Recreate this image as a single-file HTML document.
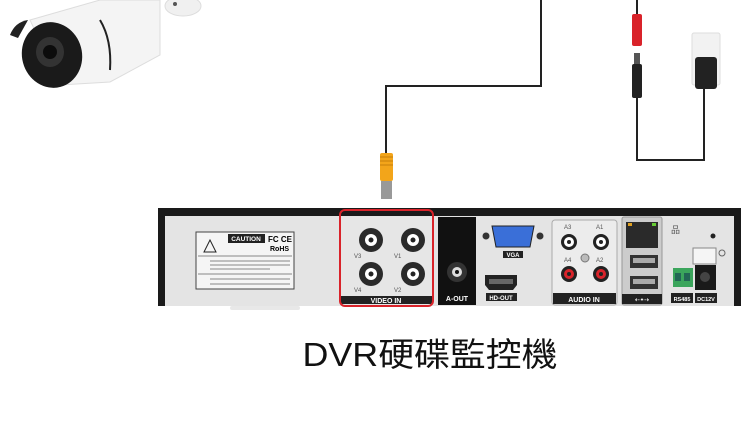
<!DOCTYPE html>
<html><head><meta charset="utf-8"><style>
html,body{margin:0;padding:0;background:#fff;width:750px;height:425px;overflow:hidden}
svg{display:block}
</style></head><body>
<svg width="750" height="425" viewBox="0 0 750 425" xmlns="http://www.w3.org/2000/svg" font-family="Liberation Sans, sans-serif">
<!-- camera -->
<path d="M30 20 L100 0 L160 0 L160 55 L110 82 L60 85 Z" fill="#f4f4f4" stroke="#ddd"/>
<path d="M100 20 Q112 40 110 70" stroke="#222" stroke-width="2" fill="none"/>
<ellipse cx="52" cy="55" rx="30" ry="33" fill="#1a1a1a" transform="rotate(-15 52 55)"/>
<ellipse cx="50" cy="52" rx="14" ry="15" fill="#333"/>
<circle cx="50" cy="52" r="7" fill="#0c0c0c"/>
<path d="M10 35 Q15 22 28 20 L18 38 Z" fill="#222"/>
<ellipse cx="183" cy="6" rx="18" ry="10" fill="#f0f0f0" stroke="#ddd"/>
<circle cx="175" cy="4" r="2" fill="#555"/>
<!-- coax cable -->
<polyline points="541,0 541,86 386,86 386,155" fill="none" stroke="#222" stroke-width="2"/>
<rect x="380" y="153" width="13" height="28" rx="2" fill="#f3a51a"/>
<g stroke="#c77f0a" stroke-width="1"><line x1="380" y1="157" x2="393" y2="157"/><line x1="380" y1="161" x2="393" y2="161"/><line x1="380" y1="165" x2="393" y2="165"/></g>
<rect x="381" y="181" width="11" height="18" fill="#999"/>
<!-- power -->
<line x1="637" y1="0" x2="637" y2="14" stroke="#222" stroke-width="2"/>
<rect x="632" y="14" width="10" height="32" rx="2" fill="#d9232a"/>
<rect x="634" y="53" width="6" height="12" fill="#555"/>
<rect x="632" y="64" width="10" height="34" rx="2" fill="#222"/>
<polyline points="637,98 637,160 704,160 704,88" fill="none" stroke="#222" stroke-width="2"/>
<rect x="692" y="33" width="28" height="52" rx="2" fill="#f2f2f2" stroke="#ddd"/>
<rect x="695" y="57" width="22" height="32" rx="3" fill="#222"/>
<!-- DVR -->
<rect x="158" y="208" width="583" height="98" fill="#1a1a1a"/>
<rect x="165" y="216" width="569" height="90" fill="#e4e4e4"/>
<rect x="230" y="306" width="70" height="4" rx="2" fill="#e8e8e8"/>
<rect x="196" y="232" width="98" height="57" fill="#f5f5f5" stroke="#444" stroke-width="1"/>
<rect x="228" y="234" width="37" height="9" fill="#222"/>
<text x="246" y="241" font-size="6.5" fill="#fff" text-anchor="middle" font-weight="bold">CAUTION</text>
<text x="268" y="242" font-size="8" font-weight="bold">FC CE</text>
<text x="270" y="251" font-size="7" font-weight="bold">RoHS</text>
<path d="M204 252 L210 240 L216 252 Z" fill="none" stroke="#222"/>
<g stroke="#888" stroke-width="1"><line x1="198" y1="256" x2="292" y2="256"/><line x1="210" y1="261" x2="290" y2="261"/><line x1="210" y1="265" x2="290" y2="265"/><line x1="210" y1="269" x2="270" y2="269"/><line x1="198" y1="274" x2="292" y2="274"/><line x1="210" y1="279" x2="290" y2="279"/><line x1="210" y1="284" x2="290" y2="284"/></g>
<!-- video in -->
<rect x="341" y="217" width="91" height="88" fill="#e6e6e6"/>
<g fill="#2a2a2a"><circle cx="371" cy="240" r="12"/><circle cx="413" cy="240" r="12"/><circle cx="371" cy="274" r="12"/><circle cx="413" cy="274" r="12"/></g>
<g fill="#fff"><circle cx="371" cy="240" r="6"/><circle cx="413" cy="240" r="6"/><circle cx="371" cy="274" r="6"/><circle cx="413" cy="274" r="6"/></g>
<g fill="#222"><circle cx="371" cy="240" r="2.5"/><circle cx="413" cy="240" r="2.5"/><circle cx="371" cy="274" r="2.5"/><circle cx="413" cy="274" r="2.5"/></g>
<g font-size="6" fill="#555"><text x="354" y="258">V3</text><text x="394" y="258">V1</text><text x="354" y="292">V4</text><text x="394" y="292">V2</text></g>
<rect x="341" y="296" width="91" height="8" fill="#222"/>
<text x="386" y="303" font-size="7" fill="#fff" text-anchor="middle" font-weight="bold">VIDEO IN</text>
<rect x="340" y="210" width="93" height="96" rx="5" fill="none" stroke="#d9232a" stroke-width="2"/>
<!-- A-OUT -->
<rect x="438" y="217" width="38" height="88" fill="#111"/>
<circle cx="457" cy="272" r="10" fill="#333"/><circle cx="457" cy="272" r="5" fill="#ddd"/><circle cx="457" cy="272" r="2" fill="#111"/>
<text x="457" y="301" font-size="7" fill="#fff" text-anchor="middle" font-weight="bold">A-OUT</text>
<!-- VGA -->
<circle cx="486" cy="236" r="3.5" fill="#333"/><circle cx="540" cy="236" r="3.5" fill="#333"/>
<path d="M492 226 L534 226 L530 247 L496 247 Z" fill="#3a6fd8" stroke="#222"/>
<rect x="503" y="251" width="20" height="7" fill="#222"/>
<text x="513" y="257" font-size="6" fill="#fff" text-anchor="middle" font-weight="bold">VGA</text>
<path d="M485 275 L517 275 L517 285 L513 290 L489 290 L485 285 Z" fill="#222"/>
<rect x="489" y="279" width="24" height="5" fill="#666"/>
<rect x="486" y="293" width="31" height="8" fill="#222"/>
<text x="501" y="300" font-size="6" fill="#fff" text-anchor="middle" font-weight="bold">HD-OUT</text>
<!-- audio in -->
<rect x="552" y="220" width="65" height="85" rx="3" fill="#ececec" stroke="#aaa"/>
<g font-size="6" fill="#555"><text x="564" y="229">A3</text><text x="596" y="229">A1</text><text x="564" y="262">A4</text><text x="596" y="262">A2</text></g>
<circle cx="569" cy="242" r="8" fill="#222"/><circle cx="569" cy="242" r="5" fill="#fff"/><circle cx="569" cy="242" r="2" fill="#222"/>
<circle cx="601" cy="242" r="8" fill="#222"/><circle cx="601" cy="242" r="5" fill="#fff"/><circle cx="601" cy="242" r="2" fill="#222"/>
<circle cx="569" cy="274" r="8" fill="#222"/><circle cx="569" cy="274" r="5" fill="#d9232a"/><circle cx="569" cy="274" r="2" fill="#222"/>
<circle cx="601" cy="274" r="8" fill="#222"/><circle cx="601" cy="274" r="5" fill="#d9232a"/><circle cx="601" cy="274" r="2" fill="#222"/>
<circle cx="585" cy="258" r="4" fill="#bbb" stroke="#777"/>
<rect x="553" y="293" width="63" height="11" fill="#222"/>
<text x="584" y="302" font-size="7" fill="#fff" text-anchor="middle" font-weight="bold">AUDIO IN</text>
<!-- network/usb -->
<rect x="622" y="217" width="40" height="88" rx="2" fill="#ccc" stroke="#999"/>
<rect x="626" y="222" width="32" height="26" fill="#2a2a2a"/>
<rect x="628" y="223" width="4" height="3" fill="#e0a020"/><rect x="652" y="223" width="4" height="3" fill="#6c3"/>
<rect x="630" y="255" width="28" height="13" fill="#333"/><rect x="633" y="258" width="22" height="5" fill="#aaa"/>
<rect x="630" y="276" width="28" height="13" fill="#333"/><rect x="633" y="279" width="22" height="5" fill="#aaa"/>
<rect x="622" y="294" width="40" height="10" fill="#222"/>
<text x="642" y="302" font-size="7" fill="#fff" text-anchor="middle">⇠•⇢</text>
<text x="671" y="233" font-size="9" fill="#555">品</text>
<circle cx="713" cy="236" r="2.5" fill="#222"/>
<rect x="693" y="248" width="23" height="16" fill="#f5f5f5" stroke="#888"/>
<circle cx="722" cy="253" r="3" fill="none" stroke="#666"/>
<rect x="673" y="268" width="20" height="19" fill="#3ba55c"/>
<rect x="675" y="273" width="6" height="8" fill="#265"/><rect x="684" y="273" width="6" height="8" fill="#265"/>
<rect x="695" y="265" width="21" height="25" fill="#1a1a1a"/><circle cx="705" cy="277" r="5" fill="#444"/>
<rect x="671" y="293" width="22" height="10" fill="#222"/>
<text x="682" y="301" font-size="5.5" fill="#fff" text-anchor="middle" font-weight="bold">RS485</text>
<rect x="695" y="293" width="22" height="10" fill="#222"/>
<text x="706" y="301" font-size="5.5" fill="#fff" text-anchor="middle" font-weight="bold">DC12V</text>
<!-- title -->
<text x="430" y="366" font-size="33" text-anchor="middle" fill="#111" font-family="Liberation Sans, Noto Sans CJK TC, sans-serif" textLength="255" lengthAdjust="spacingAndGlyphs">DVR硬碟監控機</text>
</svg>
</body></html>
